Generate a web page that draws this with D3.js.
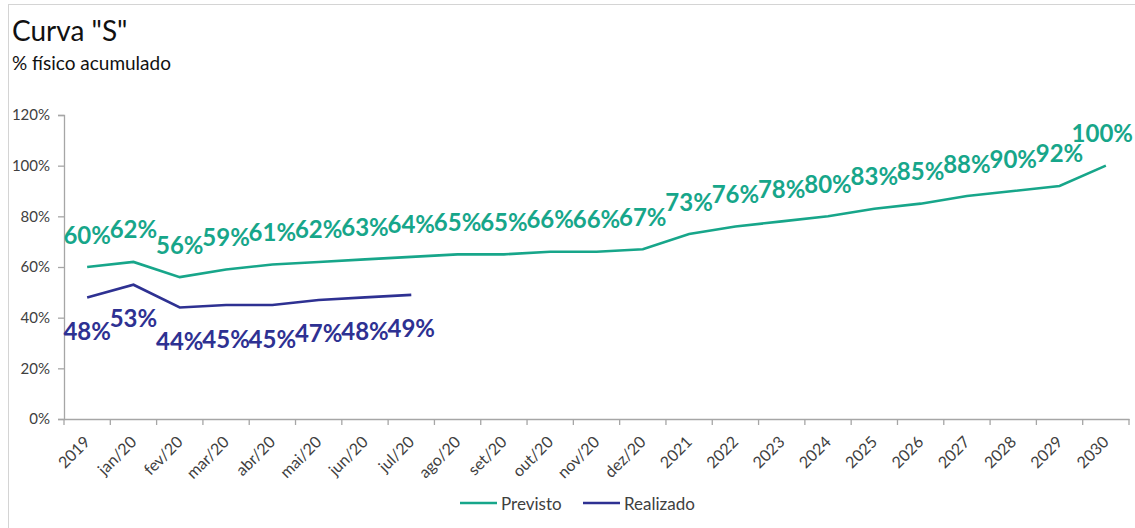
<!DOCTYPE html>
<html><head><meta charset="utf-8">
<script src="https://cdn.jsdelivr.net/npm/d3@7"></script>
<style>body{margin:0;background:#fff}svg{display:block}</style>
</head><body>
<svg id="c" width="1135" height="528"></svg>
<script>
const categories = ["2019","jan/20","fev/20","mar/20","abr/20","mai/20","jun/20","jul/20","ago/20","set/20","out/20","nov/20","dez/20","2021","2022","2023","2024","2025","2026","2027","2028","2029","2030"];
const previsto = [60,62,56,59,61,62,63,64,65,65,66,66,67,73,76,78,80,83,85,88,90,92,100];
const realizado = [48,53,44,45,45,47,48,49];
const yTicks = [0,20,40,60,80,100,120];
const seriesNames = ["Previsto","Realizado"];
const colors = ["#17a68a","#2e3192"];

const svg = d3.select("#c");
const font = "Lato, 'Open Sans', sans-serif";
const axisColor = "#a6a6a6";

// border
svg.append("rect").attr("x",8.5).attr("y",4.5).attr("width",1140).attr("height",540)
  .attr("fill","none").attr("stroke","#d4d4d4");

svg.append("text").attr("x",12).attr("y",41).text('Curva "S"')
  .attr("font-family",font).attr("font-size",28).attr("fill","#111");
svg.append("text").attr("x",12).attr("y",70).text("% físico acumulado")
  .attr("font-family",font).attr("font-size",19).attr("fill","#111");

const x = d3.scaleBand().domain(categories).range([64,1129]).padding(0);
const y = d3.scaleLinear().domain([0,120]).range([419,115]);

// y axis
const ya = svg.append("g").attr("transform","translate(64,0)")
  .call(d3.axisLeft(y).tickValues(yTicks).tickFormat(d=>d+"%").tickSizeOuter(0).tickSize(6).tickPadding(8));
ya.select(".domain").attr("stroke",axisColor).attr("stroke-width",1.3);
ya.selectAll(".tick line").attr("stroke",axisColor).attr("stroke-width",1.3);
ya.selectAll("text").attr("font-family",font).attr("font-size",15).attr("fill","#404040");

// x axis
const xa = svg.append("g").attr("transform","translate(0,419)")
  .call(d3.axisBottom(x).tickSize(0).tickSizeOuter(0));
xa.select(".domain").attr("stroke",axisColor).attr("stroke-width",1.3);
xa.selectAll(".tick line").remove();
// boundary ticks
const bounds = categories.map(c=>x(c)).concat([x(categories[categories.length-1])+x.bandwidth()]);
xa.selectAll(".bt").data(bounds).enter().append("line")
  .attr("x1",d=>d).attr("x2",d=>d).attr("y1",0).attr("y2",6)
  .attr("stroke",axisColor).attr("stroke-width",1.3);
xa.selectAll(".tick text")
  .attr("font-family",font).attr("font-size",16).attr("fill","#404040")
  .attr("text-anchor","end").attr("x",0).attr("y",0).attr("dy",0)
  .attr("transform","translate(4,24) rotate(-45)");

const cx = c => x(c) + x.bandwidth()/2;
const line = d3.line().x((d,i)=>cx(categories[i])).y(d=>y(d));

svg.append("path").datum(previsto).attr("d",line).attr("fill","none")
  .attr("stroke",colors[0]).attr("stroke-width",2.6);
svg.append("path").datum(realizado).attr("d",line).attr("fill","none")
  .attr("stroke",colors[1]).attr("stroke-width",2.6);

const lp = svg.selectAll(".lp").data(previsto).enter().append("text")
  .attr("x",(d,i)=>cx(categories[i])).attr("y",d=>y(d)-33)
  .attr("dominant-baseline","central").attr("text-anchor","middle")
  .attr("font-family",font).attr("font-weight","bold").attr("font-size",24)
  .attr("fill",colors[0]).text(d=>d+"%");
// keep labels inside the picture
lp.each(function(){
  const w = this.getComputedTextLength();
  const xc = +this.getAttribute("x");
  if (xc + w/2 > 1133) this.setAttribute("x", 1133 - w/2);
});
svg.selectAll(".lr").data(realizado).enter().append("text")
  .attr("x",(d,i)=>cx(categories[i])).attr("y",d=>y(d)+33)
  .attr("dominant-baseline","central").attr("text-anchor","middle")
  .attr("font-family",font).attr("font-weight","bold").attr("font-size",24)
  .attr("fill",colors[1]).text(d=>d+"%");

// legend
const leg = [{x:460},{x:583}];
seriesNames.forEach((n,i)=>{
  svg.append("line").attr("x1",leg[i].x).attr("x2",leg[i].x+37).attr("y1",503).attr("y2",503)
    .attr("stroke",colors[i]).attr("stroke-width",2.6);
  svg.append("text").attr("x",leg[i].x+41).attr("y",503).attr("dominant-baseline","central")
    .attr("font-family",font).attr("font-size",17).attr("fill","#404040").text(n);
});
</script>
</body></html>
